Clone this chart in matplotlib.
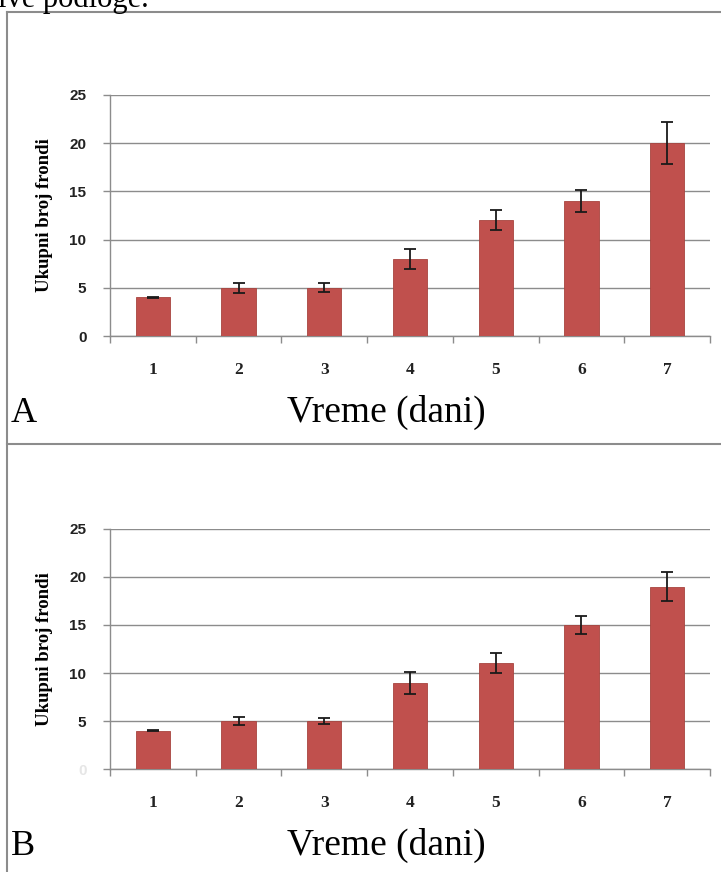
import matplotlib
matplotlib.use("Agg")
import matplotlib.pyplot as plt
from matplotlib.lines import Line2D

# ------------------------------------------------------------------ #
# Data
# ------------------------------------------------------------------ #
days = [1, 2, 3, 4, 5, 6, 7]

fronds_a = [4, 5, 5, 8, 12, 14, 20]
err_a    = [0.05, 0.5, 0.45, 1.05, 1.05, 1.15, 2.2]

fronds_b = [4, 5, 5, 9, 11, 15, 19]
err_b    = [0.05, 0.45, 0.3, 1.15, 1.05, 0.9, 1.5]

y_ticks = [0, 5, 10, 15, 20, 25]
panel_letters = ["A", "B"]

W, H = 721, 872
BAR_COLOR = "#C0504D"
GRID_GRAY = "#8c8c8c"
SERIF = ["Liberation Serif", "DejaVu Serif"]
SANS = ["Liberation Sans", "DejaVu Sans"]

fig = plt.figure(figsize=(W / 100, H / 100), dpi=100)
fig.patch.set_facecolor("white")


def fx(px):
    return px / W


def fy(py):
    return 1 - py / H


# frame lines of the two boxes (pixel coords from the reference)
for seg in [((7, 7), (12, H)), ((7, W), (12, 12)), ((7, W), (444, 444))]:
    (x0, x1), (y0, y1) = seg
    fig.add_artist(Line2D([fx(x0), fx(x1)], [fy(y0), fy(y1)],
                          color=GRID_GRAY, lw=1.5, transform=fig.transFigure))

# line of body text above the figure, mostly cut off as in the reference
fig.text(fx(-2), fy(7), "ive podloge.", family=SERIF, fontsize=22,
         va="baseline", ha="left")

panels = [
    (fronds_a, err_a, 95, 336, 412, True),
    (fronds_b, err_b, 529, 769, 845, False),
]

for k, (vals, errs, top_px, bot_px, lab_px, show_zero) in enumerate(panels):
    ax = fig.add_axes([fx(110), fy(bot_px), fx(710) - fx(110), (bot_px - top_px) / H])
    ax.bar(days, vals, width=0.4, color=BAR_COLOR, edgecolor="#a8443f",
           linewidth=0.6, zorder=3)
    ax.errorbar(days, vals, yerr=errs, fmt="none", ecolor="#1a1a1a",
                elinewidth=1.3, capsize=4.5, capthick=1.3, zorder=4)

    ax.set_xlim(0.5, 7.5)
    ax.set_ylim(0, 25)
    ax.set_yticks(y_ticks)
    ax.set_yticklabels([str(t) for t in y_ticks], family=SANS, fontsize=11,
                       fontweight="bold", color="#222222")
    if not show_zero:
        ax.get_yticklabels()[0].set_color("#e6e6e6")

    ax.set_xticks(days)
    ax.set_xticklabels([str(d) for d in days], family=SERIF, fontsize=12.5,
                       fontweight="bold", color="#222222")
    ax.set_xticks([d + 0.5 for d in [0] + days], minor=True)
    ax.tick_params(axis="x", which="major", length=0, pad=19)
    ax.tick_params(axis="x", which="minor", length=5, color=GRID_GRAY, width=1)
    ax.tick_params(axis="y", length=5, color=GRID_GRAY, width=1, pad=12)

    ax.grid(axis="y", color=GRID_GRAY, lw=1, zorder=0)
    for side in ["top", "right"]:
        ax.spines[side].set_visible(False)
    for side in ["left", "bottom"]:
        ax.spines[side].set_color(GRID_GRAY)
        ax.spines[side].set_linewidth(1)

    ax.set_ylabel("Ukupni broj frondi", family=SERIF, fontsize=13.5,
                  fontweight="bold", labelpad=12)

    fig.text(fx(386), fy(lab_px), "Vreme (dani)", family=SERIF, fontsize=27,
             ha="center", va="center")
    fig.text(fx(11), fy(lab_px + 1), panel_letters[k], family=SERIF,
             fontsize=26, ha="left", va="center")

fig.savefig("out.png", dpi=100)
